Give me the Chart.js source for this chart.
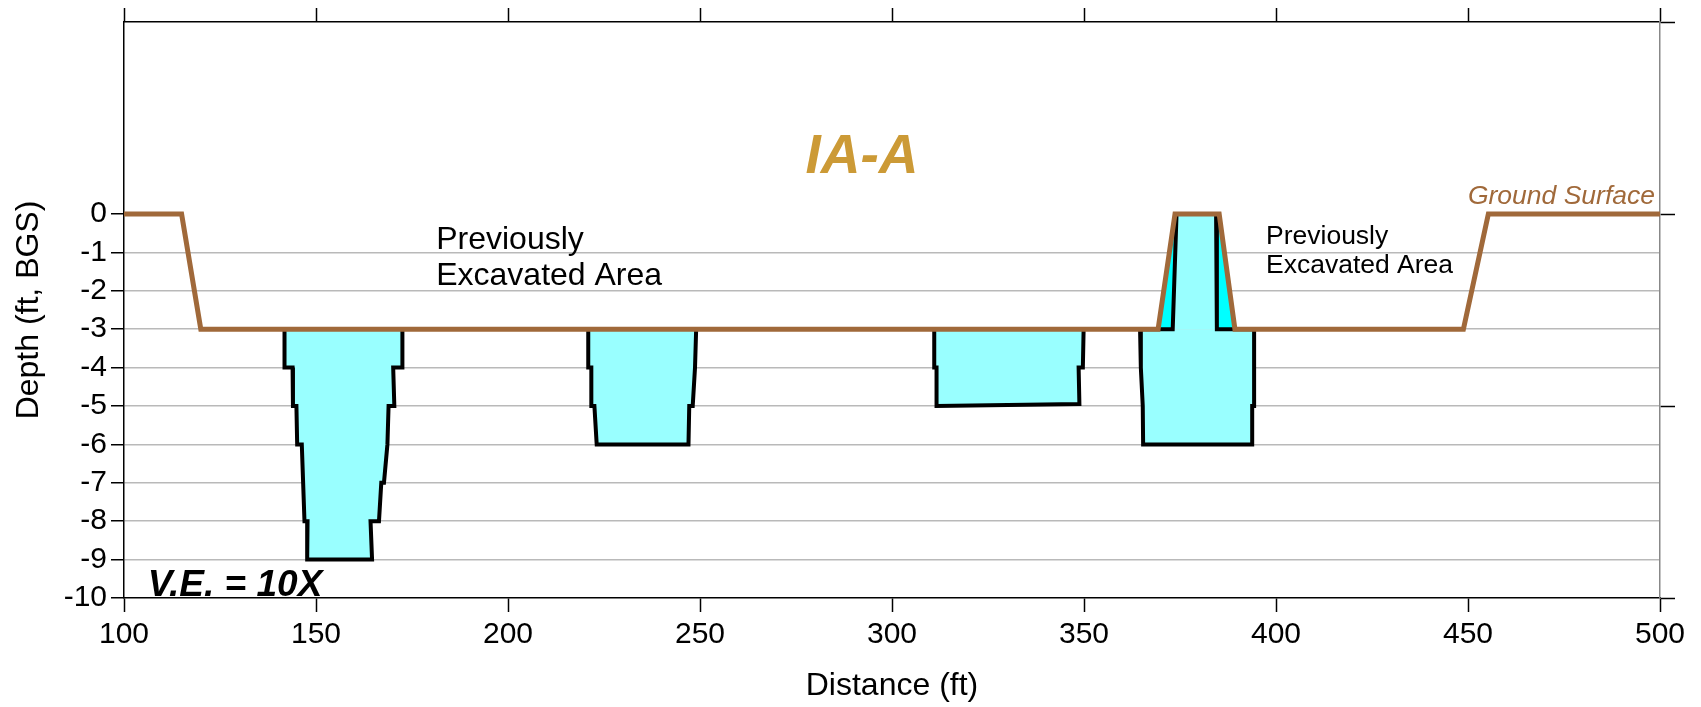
<!DOCTYPE html>
<html>
<head>
<meta charset="utf-8">
<script src="https://cdn.jsdelivr.net/npm/chart.js@4.4.1/dist/chart.umd.min.js"></script>
<style>
  html, body { margin: 0; padding: 0; background: #fff; }
  #wrap { width: 1701px; height: 707px; }
</style>
</head>
<body>
<div id="wrap"><canvas id="section" width="1701" height="707"></canvas></div>
<script>
// IA-A cross section: depth below ground surface vs. distance along section
// V.E. = 10X

// ── Data (ft) ────────────────────────────────────────────────────────────────
const xTicks     = [100, 150, 200, 250, 300, 350, 400, 450, 500];
const depthTicks = [0, -1, -2, -3, -4, -5, -6, -7, -8, -9, -10];
const rightTicks = [5, 0, -5, -10];

// ground surface profile
const groundX     = [100, 115, 120, 369.3, 373.7, 385.2, 389.3, 448.8, 455.3, 500];
const groundDepth = [0, 0, -3, -3, 0, 0, -3, -3, 0, 0];

// excavation 1
const exc1X     = [141.8, 141.8, 143.9, 144.0, 144.9, 145.1, 146.3, 147.0, 147.8, 147.7,
                   164.6, 164.2, 166.4, 167.0, 167.7, 168.6, 168.9, 170.4, 170.1, 172.5, 172.5];
const exc1Depth = [-3, -4, -4, -5, -5, -6, -6, -8, -8, -9,
                   -9, -8, -8, -7, -7, -6, -5, -5, -4, -4, -3];

// excavation 2
const exc2X     = [220.9, 220.9, 221.7, 221.7, 222.5, 223.1, 247.0, 247.2, 248.1, 248.7, 248.9, 249.0];
const exc2Depth = [-3, -4, -4, -5, -5, -6, -6, -5, -5, -4, -4, -3];

// excavation 3
const exc3X     = [311.0, 311.0, 311.6, 311.6, 348.8, 348.6, 349.7, 349.9];
const exc3Depth = [-3, -4, -4, -5, -4.95, -4, -4, -3];

// excavation 4 (lower box) and the backfilled post under the high ground
const exc4X     = [364.6, 364.8, 365.3, 365.4, 393.8, 393.8, 394.3, 394.3];
const exc4Depth = [-3, -4, -5, -6, -6, -5, -5, -3];
const postX     = [364.6, 373.1, 374.1, 384.4, 384.6, 394.3];
const postDepth = [-3, -3, 0, 0, -3, -3];

// wedges between the post and the ground slopes
const wedgeLX     = [369.3, 373.7, 374.1, 373.1];
const wedgeLDepth = [-3, 0, 0, -3];
const wedgeRX     = [384.4, 385.2, 389.3, 384.6];
const wedgeRDepth = [0, 0, -3, -3];

// ── Helpers ──────────────────────────────────────────────────────────────────
const FONT = '"Liberation Sans", Arial, Helvetica, sans-serif';
const pts = (xs, ys) => xs.map((x, i) => ({ x: x, y: ys[i] }));
const tickList = arr => arr.map(v => ({ value: v }));

function excavation(xs, ys) {
    return {
        data: pts(xs, ys),
        showLine: true,
        borderColor: '#000',
        borderWidth: 4,
        borderJoinStyle: 'miter',
        backgroundColor: '#99ffff',
        fill: 'shape'
    };
}

function wedge(xs, ys) {
    return {
        data: pts(xs, ys),
        showLine: true,
        borderColor: 'rgba(0,0,0,0)',
        borderWidth: 1,
        backgroundColor: '#00ffff',
        fill: 'shape'
    };
}

// ── Text labels ──────────────────────────────────────────────────────────────
const notes = {
    id: 'notes',
    afterDatasetsDraw(chart) {
        const ctx = chart.ctx;
        const sx = chart.scales.x, sy = chart.scales.y;
        const put = (text, x, y, font, color, align) => {
            ctx.font = font;
            ctx.fillStyle = color;
            ctx.textAlign = align;
            ctx.textBaseline = 'alphabetic';
            ctx.fillText(text, sx.getPixelForValue(x), sy.getPixelForValue(y));
        };
        ctx.save();
        put('IA-A', 292.2, 1.07, 'italic bold 55px ' + FONT, '#cc9a36', 'center');
        put('Previously', 181.3, -0.91, '32px ' + FONT, '#000', 'left');
        put('Excavated Area', 181.3, -1.85, '32px ' + FONT, '#000', 'left');
        put('Previously', 397.4, -0.79, '26.5px ' + FONT, '#000', 'left');
        put('Excavated Area', 397.4, -1.53, '26.5px ' + FONT, '#000', 'left');
        put('Ground Surface', 498.7, 0.27, 'italic 26.5px ' + FONT, '#a0693a', 'right');
        put('V.E. = 10X', 106.2, -9.95, 'italic bold 37px ' + FONT, '#000', 'left');
        ctx.restore();
    }
};

// ── Chart ────────────────────────────────────────────────────────────────────
new Chart(document.getElementById('section'), {
    type: 'scatter',
    data: {
        datasets: [
            {
                data: pts(groundX, groundDepth),
                showLine: true,
                borderColor: '#a0693a',
                borderWidth: 5,
                borderCapStyle: 'round',
                borderJoinStyle: 'miter',
                fill: false
            },
            excavation(postX, postDepth),
            excavation(exc4X, exc4Depth),
            excavation(exc3X, exc3Depth),
            excavation(exc2X, exc2Depth),
            excavation(exc1X, exc1Depth),
            wedge(wedgeLX, wedgeLDepth),
            wedge(wedgeRX, wedgeRDepth)
        ]
    },
    options: {
        responsive: false,
        animation: false,
        devicePixelRatio: 1,
        layout: { padding: 0 },
        elements: {
            point: { radius: 0, hoverRadius: 0 },
            line: { tension: 0 }
        },
        plugins: {
            legend: { display: false },
            tooltip: { enabled: false }
        },
        scales: {
            x: {
                type: 'linear', position: 'bottom', min: 100, max: 500,
                afterBuildTicks: s => { s.ticks = tickList(xTicks); },
                afterFit: s => { s.height = 109; },
                ticks: { color: '#000', font: { family: FONT, size: 30 }, padding: 5, maxRotation: 0 },
                grid: { drawOnChartArea: false, tickLength: 14, tickColor: '#000', tickWidth: 1.5 },
                border: { color: '#000', width: 1.5 },
                title: { display: true, text: 'Distance (ft)', color: '#000',
                         font: { family: FONT, size: 32 }, padding: { top: 0, bottom: 2 } }
            },
            x2: {
                type: 'linear', position: 'top', min: 100, max: 500,
                afterBuildTicks: s => { s.ticks = tickList(xTicks); },
                afterFit: s => { s.height = 22; },
                ticks: { display: false },
                grid: { drawOnChartArea: false, tickLength: 14, tickColor: '#000', tickWidth: 1.5 },
                border: { color: '#000', width: 1.5 }
            },
            y: {
                type: 'linear', position: 'left', min: -10, max: 5,
                afterBuildTicks: s => { s.ticks = tickList(depthTicks); },
                afterFit: s => { s.width = 124; },
                ticks: { color: '#000', font: { family: FONT, size: 30 }, padding: 4 },
                grid: {
                    color: c => (c.tick && c.tick.value < 0 && c.tick.value > -10) ? '#b9b9b9' : 'rgba(0,0,0,0)',
                    lineWidth: 1.5,
                    tickLength: 13, tickColor: '#000', tickWidth: 1.5
                },
                border: { color: '#000', width: 1.5 },
                title: { display: true, text: 'Depth (ft, BGS)', color: '#000',
                         font: { family: FONT, size: 32 }, padding: { top: 10, bottom: 0 } }
            },
            y2: {
                type: 'linear', position: 'right', min: -10, max: 5,
                afterBuildTicks: s => { s.ticks = tickList(rightTicks); },
                afterFit: s => { s.width = 41; },
                ticks: { display: false },
                grid: { drawOnChartArea: false, tickLength: 15, tickColor: '#000', tickWidth: 1.5 },
                border: { color: '#888', width: 1.5 }
            }
        }
    },
    plugins: [notes]
});
</script>
</body>
</html>
